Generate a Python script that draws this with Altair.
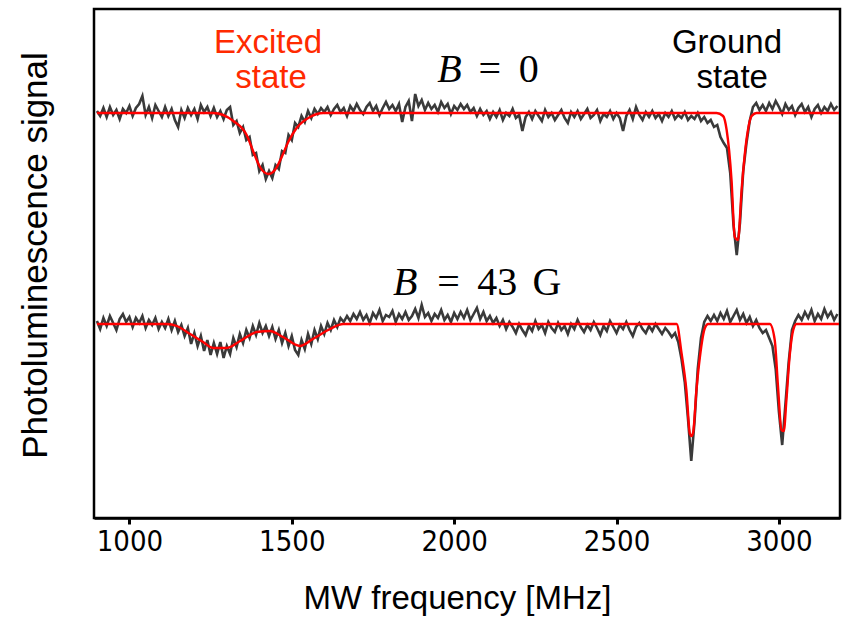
import altair as alt
import pandas as pd

# ---------------- data ----------------
# MW sweep grid [MHz]
FREQ = list(range(900, 3190, 10))

# PL signal (arbitrary units, 0 = off-resonance level), B = 0 trace
TOP_DATA = [
    2, -3, 5, -4, 6, -2, 3, -6, 4, 0, 7, -3, 5, 9, 17, -2, 6, -5, 8, 2,
    -4, 6, -3, 4, -7, -14, 3, -5, 5, -2, 4, -6, 8, 1, 6, -3,
    5, -4, 2, -6, 3, 6, -12, -8, -20, -14, -27, -24, -42, -40, -58, -52, -66, -58, -65, -52,
    -56, -38, -40, -22, -27, -10, -14, -3, -9, 2, -5, 4, -1, 5, 1,
    6, -2, 4, 8, 1, 5, -3, 7, 2, 9,
    3, -1, 6, 10, 2, 7, -2, 5, 11, 4,
    8, 2, 9, -9, 6, 12, -8, 19, 7, 13,
    3, 10, 4, 8, 1, 11, 5, 9, -1, 7,
    3, 9, 4, 8, 1, 5, -3, 4, -2, 2,
    -6, 1, -4, 3, -7, 0, -3, 4, -5, -2,
    -18, -4, 1, -6, 2, -3, -8, 3, -4, 0,
    -7, -2, 3, -5, -10, 1, -4, 2, -6, -1,
    4, -5, -2, 3, -8, -1, -4, 2, -6, 0,
    -5, -18, -3, 3, -6, 6, -2, -7, 1, -4,
    2, -5, -1, -8, 0, -4, 2, -6, -2, -5,
    1, -7, -3, -6, 0, -8, -4, -10, -7,
    -14, -12, -24, -30, -35, -60, -112, -142, -110, -58, -30, -8, 6, 10, 3,
    8, 2, 10, 4, 12, 6, -1, 9, 3, 7, -2, 5, 9, 1, 6, -4, 4, 8, 0, 6, 2, 9, 3, 7,
]

# PL signal, B = 43 G trace
BOT_DATA = [
    3, -5, 6, -2, 8, 1, -6, 5, 10, 2, 7, -3, 6, 1, 8, -4, 4, -1, 6, -5, 2,
    -4, 5, -6, 3, -8, -1, -12, -4, -20, -9,
    -22, -12, -27, -16, -31, -19, -30, -18, -34, -22,
    -30, -14, -23, -10, -19, -6, -14, -2, -11, 1,
    -9, -2, -12, -3, -15, -6, -19, -9, -22, -12,
    -26, -31, -16, -25, -10, -20, -6, -15, -2, -10,
    1, -6, 4, -3, 6, 2,
    8, 3, 10, 5, 12, 4, 9, 1, 11, 6,
    14, 3, 9, 7, 13, 2, 10, 5, 12, 4,
    8, 15, 6, 19, 7, 11, 3, 10, 6, 14,
    4, 9, 2, 11, 5, 12, 6, 14, 4, 10,
    16, 5, 12, 3, 8, 1, 6, -2, 4, -5,
    2, -3, -9, 0, -6, -11, -2, -7, 3, -5,
    -1, -9, 2, -4, -8, 1, -6, -2, -10, 0,
    -5, 4, -3, -8, -1, -6, 2, -4, -11, -2,
    -7, 3, -3, -9, -1, -5, 2, -6, -12, -3,
    1, -5, -9, -2, -7, 0, -5, -10, -4, -8,
    -13, -9,
    -18, -35, -58, -95, -137, -98, -45, -14, 2, 8, 3,
    9, 3, 11, 5, 13, 2, 8, 14, 4, 10, 1, 7, -2, 4, -4, -9, -6,
    -14, -22, -45, -88, -121, -80, -38, -6, 3, 9,
    4, 12, 6, 14, 3, 10, 5, 15, 7, 12, 4, 10,
]

# fitted curves (red)
TOP_FIT_F = [900, 1258, 1320, 1361, 1382, 1402, 1428, 1448, 1469, 1489,
             1515, 1556, 1597, 2808, 2828, 2839, 2854, 2864, 2874, 2885,
             2900, 2916, 2931, 3185]
TOP_FIT_V = [0, 0, -8, -22, -39, -54, -61, -57, -44, -29,
             -15, -4, 0, 0, -3, -17, -67, -124, -127, -77,
             -27, -3, 0, 0]
BOT_FIT_F = [900, 1115, 1146, 1187, 1227, 1258, 1300, 1341, 1392, 1433,
             1473, 1525, 1565, 1618, 1658, 2685, 2700, 2715, 2726, 2731,
             2736, 2746, 2757, 2772, 2782, 2972, 2987, 2997, 3008, 3015,
             3023, 3033, 3044, 3054, 3185]
BOT_FIT_V = [0, 0, -2, -10, -18, -24, -24, -17, -8, -7,
             -13, -22, -15, -5, 0, 0, -29, -66, -110, -112,
             -108, -66, -32, -4, 0, 0, -16, -62, -106, -107,
             -76, -32, -6, 0, 0]

# vertical display offset of each trace
TRACE_OFFSET = {"B = 0": 0, "B = 43 G": -211}

TICKS = [1000, 1500, 2000, 2500, 3000]

# annotation texts (anchor in data coordinates)
ANN_RED_TEXT = ["Excited", "state"]
ANN_RED_F = [1427, 1436]
ANN_RED_S = [60, 25]
ANN_BLK_TEXT = ["Ground", "state"]
ANN_BLK_F = [2840, 2856]
ANN_BLK_S = [60, 25]

# math labels: italic "B" and upright parts
MATH_IT_TEXT = ["B", "B"]
MATH_IT_F = [1948, 1812]
MATH_IT_S = [31, -182]
MATH_RM_TEXT = ["=", "0", "=", "43", "G"]
MATH_RM_F = [2110, 2230, 1983, 2133, 2286]
MATH_RM_S = [31, 31, -182, -182, -182]

assert len(TOP_DATA) == len(FREQ) and len(BOT_DATA) == len(FREQ)

# ---------------- tables ----------------
raw = pd.concat([
    pd.DataFrame({"freq": FREQ, "signal": [v + TRACE_OFFSET["B = 0"] for v in TOP_DATA], "trace": "B = 0"}),
    pd.DataFrame({"freq": FREQ, "signal": [v + TRACE_OFFSET["B = 43 G"] for v in BOT_DATA], "trace": "B = 43 G"}),
])
fit = pd.concat([
    pd.DataFrame({"freq": TOP_FIT_F, "signal": [v + TRACE_OFFSET["B = 0"] for v in TOP_FIT_V], "trace": "B = 0"}),
    pd.DataFrame({"freq": BOT_FIT_F, "signal": [v + TRACE_OFFSET["B = 43 G"] for v in BOT_FIT_V], "trace": "B = 43 G"}),
])
ann_red = pd.DataFrame({"text": ANN_RED_TEXT, "freq": ANN_RED_F, "signal": ANN_RED_S})
ann_blk = pd.DataFrame({"text": ANN_BLK_TEXT, "freq": ANN_BLK_F, "signal": ANN_BLK_S})
math_it = pd.DataFrame({"text": MATH_IT_TEXT, "freq": MATH_IT_F, "signal": MATH_IT_S})
math_rm = pd.DataFrame({"text": MATH_RM_TEXT, "freq": MATH_RM_F, "signal": MATH_RM_S})

xscale = alt.Scale(domain=[891, 3188], nice=False, zero=False)
yscale = alt.Scale(domain=[-405, 104], nice=False, zero=False)

TICK_FONT = "Liberation Sans Narrow, Arial Narrow, DejaVu Sans Condensed, Liberation Sans, sans-serif"

xaxis = alt.Axis(
    values=TICKS, format="d", grid=False,
    labelFont=TICK_FONT, labelFontSize=29, labelColor="black",
    labelPadding=3, labelFlush=False,
    tickColor="black", tickSize=6, tickWidth=3,
    domainColor="black", domainWidth=2.5,
    title="MW frequency [MHz]", titleFont="Liberation Sans", titleFontSize=33,
    titleFontWeight="normal", titleColor="black",
    titleX=363, titleY=90, titleAlign="center", titleBaseline="alphabetic",
)
yaxis = alt.Axis(
    domain=False, ticks=False, labels=False, grid=False,
    title="Photoluminescence signal", titleFont="Liberation Sans", titleFontSize=35,
    titleFontWeight="normal", titleColor="black",
    titleX=-48, titleY=246, titleAlign="center", titleBaseline="alphabetic",
)

X = alt.X("freq:Q", scale=xscale, axis=xaxis)
Y = alt.Y("signal:Q", scale=yscale, axis=yaxis)
Xn = alt.X("freq:Q", scale=xscale)
Yn = alt.Y("signal:Q", scale=yscale)

noisy = alt.Chart(raw).mark_line(color="#3a3a3a", strokeWidth=2.6, clip=True).encode(
    x=X, y=Y, detail="trace:N"
)
fitted = alt.Chart(fit).mark_line(color="#ff0000", strokeWidth=2.4, interpolate="monotone", clip=True).encode(
    x=Xn, y=Yn, detail="trace:N"
)
t_red = alt.Chart(ann_red).mark_text(
    align="center", baseline="alphabetic", font="Liberation Sans", fontSize=33, color="#ff2a00"
).encode(x=Xn, y=Yn, text="text:N")
t_blk = alt.Chart(ann_blk).mark_text(
    align="center", baseline="alphabetic", font="Liberation Sans", fontSize=33, color="black"
).encode(x=Xn, y=Yn, text="text:N")
m_it = alt.Chart(math_it).mark_text(
    align="left", baseline="alphabetic", font="Liberation Serif", fontStyle="italic", fontSize=40, color="black"
).encode(x=Xn, y=Yn, text="text:N")
m_rm = alt.Chart(math_rm).mark_text(
    align="center", baseline="alphabetic", font="Liberation Serif", fontSize=40, color="black"
).encode(x=Xn, y=Yn, text="text:N")

chart = alt.layer(noisy, fitted, t_red, t_blk, m_it, m_rm).properties(
    width=746, height=509,
    padding={"left": 94, "top": 9, "right": 8, "bottom": 99},
    autosize="none",
    background="white",
).configure_view(stroke="black", strokeWidth=2.5)

chart.save("out.html", embed_options={"renderer": "svg", "actions": False})
